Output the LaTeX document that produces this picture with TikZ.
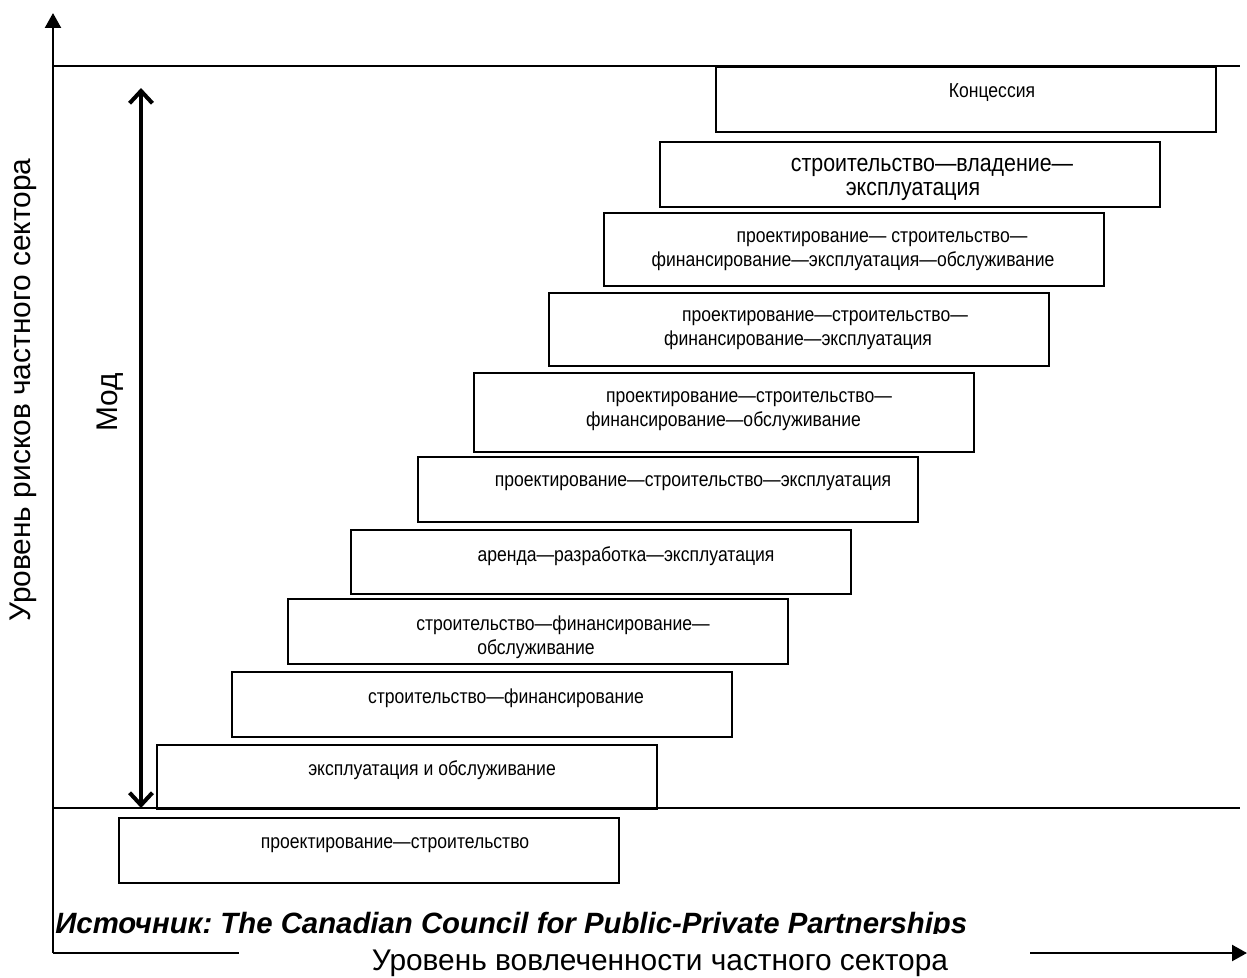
\documentclass[tikz,border=0pt]{standalone}
\usepackage{fontspec}
\setmainfont{Liberation Sans}
\newfontfamily\narrowfont[FakeStretch=0.87]{Liberation Sans}
\usetikzlibrary{arrows.meta}
\frenchspacing

\tikzset{
  stepbox/.style={draw,line width=1.1pt,inner sep=0pt,anchor=north west,
    minimum width=10cm,minimum height=1.3cm},
  steptext/.style={font=\narrowfont\fontsize{11.5}{13.6}\selectfont,align=center,inner sep=0pt},
  axisline/.style={line width=1.5pt},
  levelline/.style={line width=0.75pt},
  axislabel/.style={font=\fontsize{17}{19}\selectfont},
}

\begin{document}
\begin{tikzpicture}[x=0.02cm,y=-0.02cm]
  \useasboundingbox (0,0) rectangle (1247,977);
  % axes
  \coordinate (origin) at (53,953);
  \coordinate (ytop) at (53,13);
  \coordinate (xend) at (1247,953);
  \draw[axisline,-{Triangle[length=8.5pt,width=9pt]}] (origin) -- (ytop);
  \draw[axisline,-{Triangle[length=8.5pt,width=9pt]}] (origin) -- (xend);
  \coordinate (hiL) at (53,66);
  \coordinate (hiR) at (1240,66);
  \coordinate (loL) at (53,808);
  \coordinate (loR) at (1240,808);
  \draw[levelline] (hiL) -- (hiR);
  \draw[levelline] (loL) -- (loR);
  \node[rotate=90,axislabel] (ylabel) at (23,390) {Уровень рисков частного сектора};

  % mode arrow
  \coordinate (modtop) at (141,88);
  \coordinate (modbot) at (141,808);
  \draw[line width=2.3pt,{Straight Barb[length=7pt,width=13pt]}-{Straight Barb[length=7pt,width=13pt]}] (modbot) -- (modtop);
  \node[rotate=90,axislabel] (mod) at (110,402) {Мод};

  % steps
  \node[stepbox] (concession) at (715,66) {};
  \node[steptext] (concessionT) at (992,93) {Концессия};
  \node[stepbox] (boo) at (659,141) {};
  \node[steptext,font=\narrowfont\fontsize{14}{13.6}\selectfont] (booT) at (932,179) {строительство—владение—\\эксплуатация\hspace*{0.76cm}};
  \node[stepbox,minimum height=1.46cm] (dbfom) at (603,212) {};
  \node[steptext] (dbfomT) at (860,251) {\hspace*{0.88cm}проектирование— строительство—\\финансирование—эксплуатация—обслуживание\hspace*{0.28cm}};
  \node[stepbox,minimum height=1.46cm] (dbfo) at (548,292) {};
  \node[steptext] (dbfoT) at (812,330) {\hspace*{0.52cm}проектирование—строительство—\\финансирование—эксплуатация\hspace*{0.56cm}};
  \node[stepbox,minimum height=1.58cm] (dbfm) at (473,372) {};
  \node[steptext] (dbfmT) at (736,411) {\hspace*{0.52cm}проектирование—строительство—\\финансирование—обслуживание\hspace*{0.5cm}};
  \node[stepbox] (dbo) at (417,456) {};
  \node[steptext] (dboT) at (693,483) {проектирование—строительство—эксплуатация};
  \node[stepbox,minimum height=1.28cm] (ldo) at (350,529) {};
  \node[steptext] (ldoT) at (626,556) {аренда—разработка—эксплуатация};
  \node[stepbox] (bfm) at (287,598) {};
  \node[steptext] (bfmT) at (550,637) {\hspace*{0.52cm}строительство—финансирование—\\обслуживание\hspace*{0.56cm}};
  \node[stepbox] (bf) at (231,671) {};
  \node[steptext] (bfT) at (506,698) {строительство—финансирование};
  \node[stepbox,minimum height=1.28cm] (om) at (156,744) {};
  \node[steptext] (omT) at (432,770) {эксплуатация и обслуживание};
  \node[stepbox] (db) at (118,817) {};
  \node[steptext] (dbT) at (395,845) {проектирование—строительство};

  % source and x label
  \node[anchor=base west,inner sep=0pt,font=\fontsize{16.7}{18}\bfseries\itshape] (source) at (55,933)
    {Источник: The Canadian Council for Public-Private Partnerships};
  \node[fill=white,inner sep=0pt,minimum width=15.82cm,minimum height=1cm] (xgap) at (634.5,959) {};
  \node[anchor=base,inner sep=0pt,axislabel] (xlabel) at (660,970) {Уровень вовлеченности частного сектора};
\end{tikzpicture}
\end{document}
